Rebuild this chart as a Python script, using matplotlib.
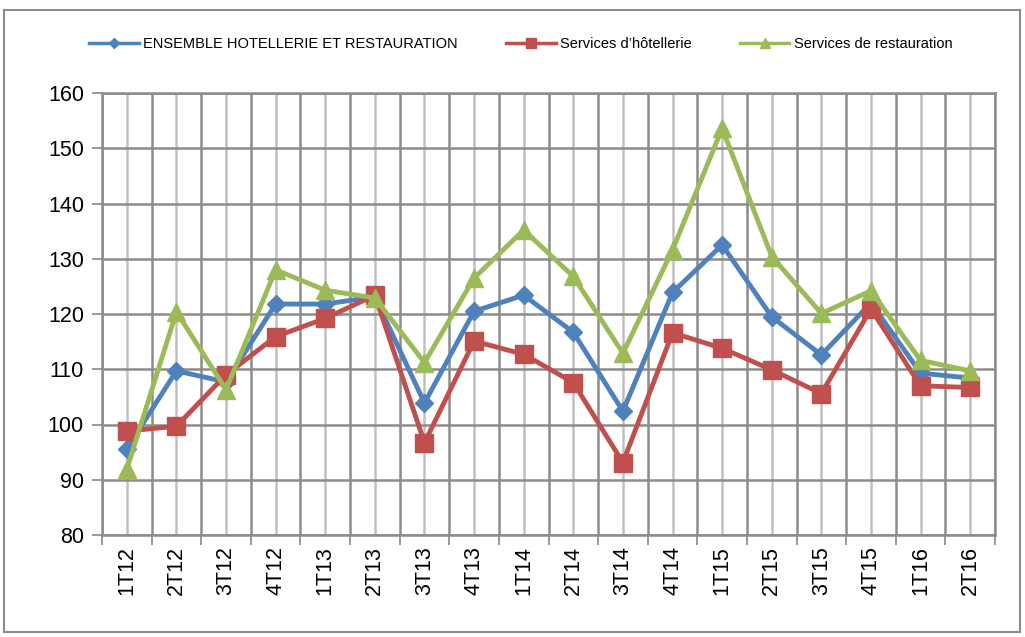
import matplotlib
matplotlib.use("Agg")
import matplotlib.pyplot as plt
from matplotlib.patches import Rectangle
from matplotlib.ticker import MultipleLocator, FixedLocator

quarters = ["1T12", "2T12", "3T12", "4T12", "1T13", "2T13", "3T13", "4T13", "1T14",
            "2T14", "3T14", "4T14", "1T15", "2T15", "3T15", "4T15", "1T16", "2T16"]
ensemble = [95.6, 109.7, 107.7, 121.8, 121.8, 123.1, 103.9, 120.5, 123.4,
            116.7, 102.4, 123.9, 132.5, 119.5, 112.6, 122.0, 109.3, 108.4]
hotellerie = [98.8, 99.7, 109.0, 115.9, 119.2, 123.4, 96.7, 115.1, 112.7,
              107.6, 93.1, 116.6, 113.8, 109.9, 105.6, 120.9, 107.0, 106.7]
restauration = [91.9, 120.4, 106.3, 128.0, 124.3, 122.9, 111.2, 126.5, 135.2,
                126.8, 112.9, 131.6, 153.6, 130.4, 120.1, 124.2, 111.6, 109.7]

plt.rcParams['font.family'] = ['Liberation Sans', 'DejaVu Sans']

fig = plt.figure(figsize=(10.25, 6.37), dpi=100)
ax = fig.add_axes([102 / 1025, 1 - 535 / 637, 893 / 1025, 442 / 637])

x = list(range(len(quarters)))
ax.plot(x, ensemble, color="#4F81BD", lw=3.5, marker="D", ms=9.5,
        label="ENSEMBLE HOTELLERIE ET RESTAURATION", zorder=3)
ax.plot(x, hotellerie, color="#C0504D", lw=3.5, marker="s", ms=13,
        label="Services d\u2019h\u00f4tellerie", zorder=4)
ax.plot(x, restauration, color="#9BBB59", lw=3.5, marker="^", ms=13,
        label="Services de restauration", zorder=5)

ax.set_xlim(-0.5, len(quarters) - 0.5)
ax.set_ylim(80, 160)
ax.yaxis.set_major_locator(MultipleLocator(10))
ax.set_xticks(x)
ax.set_xticklabels(quarters, rotation=90, fontsize=15.5)
ax.xaxis.set_minor_locator(FixedLocator([i - 0.5 for i in range(len(quarters) + 1)]))
ax.tick_params(axis="x", which="major", length=0, pad=8)
ax.tick_params(axis="x", which="minor", length=7, width=1.2, color="#888888")
ax.tick_params(axis="y", length=7, width=1.2, color="#888888", labelsize=15.5, pad=6)

ax.grid(axis="y", color="#8c8c8c", lw=1.8)
ax.grid(axis="x", which="minor", color="#8c8c8c", lw=1.8)
ax.grid(axis="x", which="major", color="#c0c0c0", lw=1.8)
ax.set_axisbelow(True)
for s in ax.spines.values():
    s.set_color("#8c8c8c")
    s.set_linewidth(1.8)

leg = fig.legend(loc="center left", bbox_to_anchor=(82 / 1025, 1 - 44 / 637), ncol=3,
                 frameon=False, borderpad=0, fontsize=10.5, handlelength=3.4,
                 handletextpad=0.3, columnspacing=3.3, markerscale=0.55)
for ln in leg.get_lines():
    ln.set_linewidth(2.5)

fig.patches.append(Rectangle((4 / 1025, 1 - 632 / 637), 1016 / 1025, 622 / 637,
                             transform=fig.transFigure, fill=False,
                             edgecolor="#8c8c8c", lw=1.5))

fig.savefig("out.png", dpi=100)
